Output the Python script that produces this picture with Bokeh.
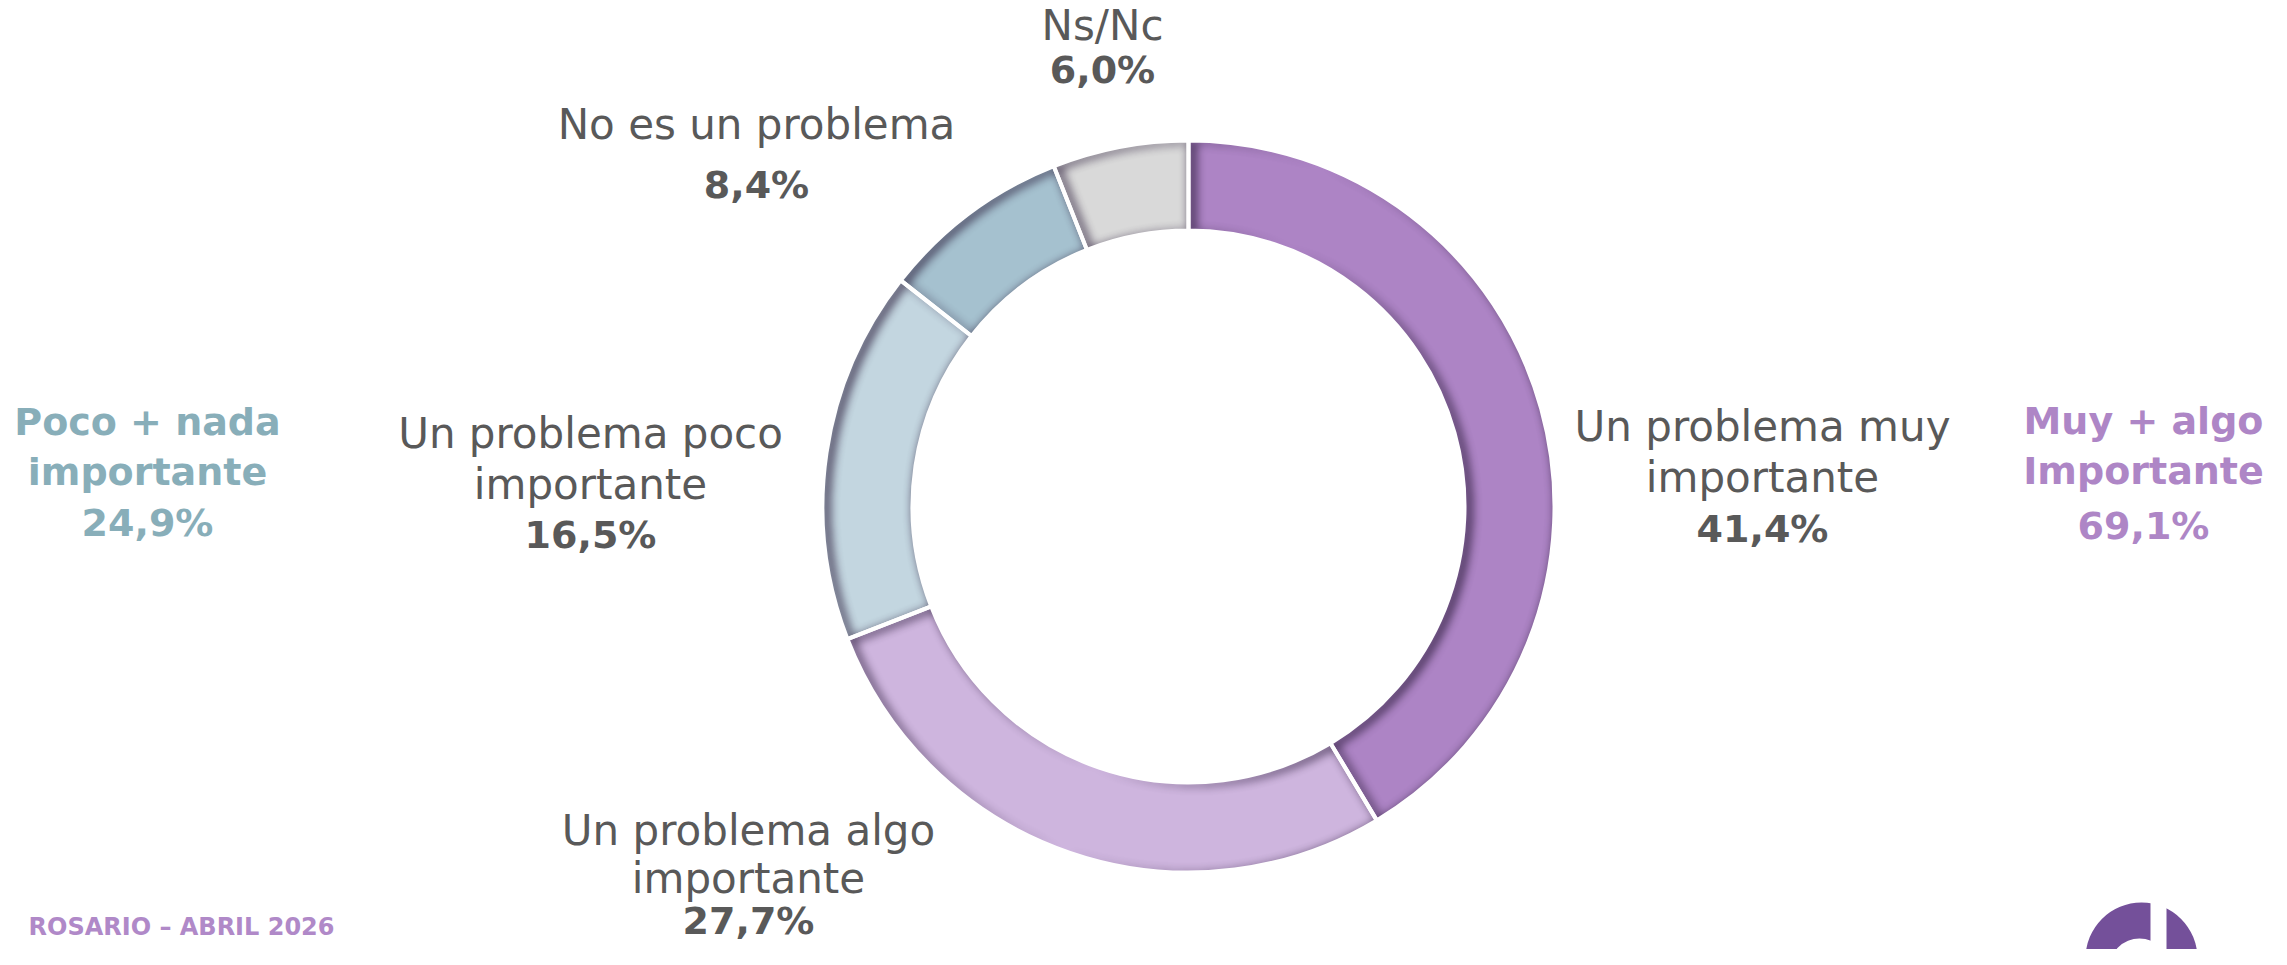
import math
import numpy as np
from bokeh.plotting import figure
from bokeh.models import Range1d, ColumnDataSource
from bokeh.core.properties import value
from bokeh.embed import file_html
from bokeh.resources import INLINE

# ---------------- data ----------------
categories = ["Un problema muy importante", "Un problema algo importante",
              "Un problema poco importante", "No es un problema", "Ns/Nc"]
values = [41.4, 27.7, 16.5, 8.4, 6.0]
label_lines = [["Un problema muy", "importante"],
               ["Un problema algo", "importante"],
               ["Un problema poco", "importante"],
               ["No es un problema"],
               ["Ns/Nc"]]
group_titles = [["Muy + algo", "Importante"], ["Poco + nada", "importante"]]
group_members = [[0, 1], [2, 3]]
footer_text = "ROSARIO – ABRIL 2026"

# ---------------- styles / layout ----------------
seg_colors = ["#AD84C5", "#CEB5DE", "#C3D6E0", "#A5C1CF", "#D9D9D9"]
group_colors = ["#AE86C6", "#88AEB9"]
TEXT_GRAY = "#595959"
W, H = 2287, 965
PW, PH = W - 16, H - 16
CX, CY = 1188, 506          # donut centre (screen px)
R_OUT, R_IN = 366, 276

# label anchor positions (screen px): x, first line y, line step, value y
label_pos = [(1762, 426, 51, 528),
             (748, 830, 48, 920),
             (590, 433, 51, 534),
             (756, 124, 51, 184),
             (1102, 25, 51, 69)]
group_pos = [(2143, 420, 50, 525), (147, 421, 50, 522)]

def Y(y):
    return H - y

p = figure(width=PW, height=PH, output_backend="svg", toolbar_location=None,
           x_range=Range1d(0, PW), y_range=Range1d(H - PH, H),
           min_border=0, outline_line_color=None)
p.axis.visible = False
p.grid.visible = False
p.background_fill_color = "white"
p.border_fill_color = "white"

# ---------------- donut ----------------
total = sum(values)
starts, ends = [], []
cum = 0.0
for v in values:
    a0 = math.pi / 2 - 2 * math.pi * (cum + v) / total
    a1 = math.pi / 2 - 2 * math.pi * cum / total
    starts.append(a0)
    ends.append(a1)
    cum += v
src = ColumnDataSource(dict(x=[CX] * len(values), y=[Y(CY)] * len(values),
                            start=starts, end=ends, color=seg_colors, cat=categories))
p.annular_wedge(x="x", y="y", inner_radius=R_IN, outer_radius=R_OUT,
                start_angle="start", end_angle="end", fill_color="color",
                line_color=None, direction="anticlock", source=src)

# inner-shadow overlay (soft dark band along the left/top edges of each slice)
pad = 4
x0s, y0s = CX - R_OUT - pad, CY - R_OUT - pad
n = 2 * (R_OUT + pad)
xs = np.arange(n) + x0s + 0.5
ys = np.arange(n) + y0s + 0.5
XX, YY = np.meshgrid(xs, ys)
ddx, ddy = XX - CX, CY - YY
rr = np.hypot(ddx, ddy)
frac = ((np.pi / 2 - np.arctan2(ddy, ddx)) / (2 * np.pi)) % 1.0
bounds = np.cumsum(values) / total
seg = np.searchsorted(bounds[:-1], frac, side="right")
seg = np.where((rr >= R_IN) & (rr <= R_OUT), seg, -1)
ox, oy = 8, 3
shifted = np.full_like(seg, -1)
shifted[oy:, ox:] = seg[:-oy, :-ox]
outside = (shifted != seg).astype(float)

def box1(a, r, axis):
    a = np.moveaxis(a, axis, -1)
    pp = np.pad(a, ((0, 0), (r + 1, r)), mode="edge")
    c = np.cumsum(pp, axis=-1)
    out = (c[:, 2 * r + 1:] - c[:, :-2 * r - 1]) / (2 * r + 1)
    return np.moveaxis(out, -1, axis)

b = outside
for _ in range(3):
    b = box1(b, 4, 1)
    b = box1(b, 4, 0)
alpha = np.where(seg >= 0, np.clip(b * 0.8, 0, 0.62), 0.0)
rgba = np.zeros((n, n, 4), dtype=np.uint8)
rgba[..., 0] = 40
rgba[..., 1] = 25
rgba[..., 2] = 55
rgba[..., 3] = (alpha * 255).astype(np.uint8)
img = rgba.view(dtype=np.uint32).reshape((n, n))[::-1]
p.image_rgba(image=[img], x=x0s, y=Y(y0s + n), dw=n, dh=n)

# white separators on top
p.annular_wedge(x="x", y="y", inner_radius=R_IN, outer_radius=R_OUT,
                start_angle="start", end_angle="end", fill_alpha=0,
                line_color="white", line_width=4, direction="anticlock", source=src)

def fmt(v):
    return f"{v:.1f}".replace(".", ",") + "%"

REG = value("DejaVu Sans")
BOLD = value("DejaVu Sans")

# ---------------- labels ----------------
for i, lines in enumerate(label_lines):
    x, y0, step, yv = label_pos[i]
    for k, ln in enumerate(lines):
        p.text(x=[x], y=[Y(y0 + k * step)], text=[ln], text_font=REG,
               text_font_size="42px", text_color=TEXT_GRAY,
               text_align="center", text_baseline="middle")
    p.text(x=[x], y=[Y(yv)], text=[fmt(values[i])], text_font=BOLD,
           text_font_style="bold", text_font_size="38px", text_color=TEXT_GRAY,
           text_align="center", text_baseline="middle")

for g, lines in enumerate(group_titles):
    x, y0, step, yv = group_pos[g]
    tot = sum(values[m] for m in group_members[g])
    for k, ln in enumerate(lines):
        p.text(x=[x], y=[Y(y0 + k * step)], text=[ln], text_font=BOLD,
               text_font_style="bold", text_font_size="38px", text_color=group_colors[g],
               text_align="center", text_baseline="middle")
    p.text(x=[x], y=[Y(yv)], text=[fmt(tot)], text_font=BOLD,
           text_font_style="bold", text_font_size="38px", text_color=group_colors[g],
           text_align="center", text_baseline="middle")

# footer
p.text(x=[28], y=[Y(912)], text=[footer_text], text_font=BOLD, text_font_style="bold",
       text_font_size="24px", text_color="#B089C8", text_align="left", text_baseline="top")

# logo (decoration)
p.wedge(x=[2141], y=[Y(958)], radius=56, start_angle=0, end_angle=2 * math.pi,
        fill_color="#74509A", line_color=None)
p.circle(x=[2139], y=[Y(968)], radius=30, fill_color="white", line_color=None)
p.circle(x=[2139], y=[Y(968)], radius=13, fill_color="#775A9C", line_color=None)
p.quad(left=[2150], right=[2166], top=[Y(895)], bottom=[Y(968)], fill_color="white", line_color=None)

open("out.html", "w").write(file_html(p, INLINE))
